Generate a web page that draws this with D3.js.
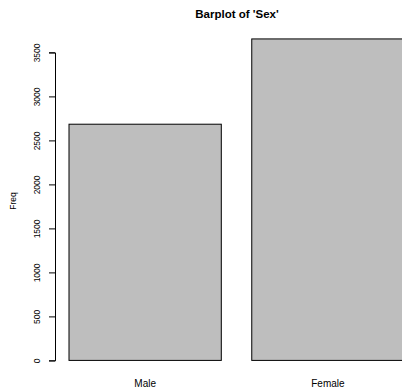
<!DOCTYPE html>
<html><head><meta charset="utf-8">
<script src="https://cdn.jsdelivr.net/npm/d3@7"></script>
<style>body{margin:0;background:#fff}svg{display:block}</style>
</head><body>
<script>
const categories = ["Male", "Female"];
const freqValues = [2684, 3653];
const yTicks = [0, 500, 1000, 1500, 2000, 2500, 3000, 3500];
const title = "Barplot of 'Sex'";
const yTitle = "Freq";

const W = 402, H = 387;
const svg = d3.select("body").append("svg").attr("width", W).attr("height", H);
const font = "Liberation Sans, Arial, Helvetica, sans-serif";

// R barplot: bars at [0.2,1.2], [1.4,2.4]
const barW = 1, space = 0.2;
const xl = categories.map((c, i) => space + i * (barW + space));
const x = d3.scaleLinear().domain([0.2, 1.2]).range([69, 221.3]);
const y = d3.scaleLinear().domain([0, 3500]).range([360.4, 52.4]);

svg.append("g").selectAll("rect").data(categories).join("rect")
  .attr("x", (d, i) => x(xl[i]))
  .attr("y", (d, i) => y(freqValues[i]))
  .attr("width", (d, i) => x(xl[i] + barW) - x(xl[i]))
  .attr("height", (d, i) => y(0) - y(freqValues[i]))
  .attr("fill", "#bebebe").attr("stroke", "#000").attr("stroke-width", 1);

svg.append("g").selectAll("text").data(categories).join("text")
  .attr("x", (d, i) => x(xl[i] + barW / 2))
  .attr("y", 386.5)
  .attr("text-anchor", "middle")
  .attr("font-family", font).attr("font-size", "10px").attr("fill", "#000")
  .text(d => d);

const ax = svg.append("g").attr("transform", "translate(55,0)")
  .call(d3.axisLeft(y).tickValues(yTicks).tickSize(6).tickPadding(0).tickFormat(d3.format("d")));
ax.select(".domain").attr("stroke", "#000");
ax.selectAll(".tick line").attr("stroke", "#000");
ax.selectAll(".tick text")
  .attr("font-family", font).attr("font-size", "8.5px").attr("fill", "#000")
  .attr("text-anchor", "middle").attr("x", 0).attr("dy", 0)
  .attr("transform", "translate(-18.5,0) rotate(-90)")
  .attr("y", 0).attr("dominant-baseline", "central");

svg.append("text")
  .attr("transform", "translate(12.5,201) rotate(-90)")
  .attr("text-anchor", "middle").attr("dominant-baseline", "central")
  .attr("font-family", font).attr("font-size", "8.5px").attr("fill", "#000")
  .text(yTitle);

svg.append("text")
  .attr("x", 237).attr("y", 18)
  .attr("text-anchor", "middle")
  .attr("font-family", font).attr("font-size", "11.5px").attr("font-weight", "bold").attr("fill", "#000")
  .text(title);
</script>
</body></html>
